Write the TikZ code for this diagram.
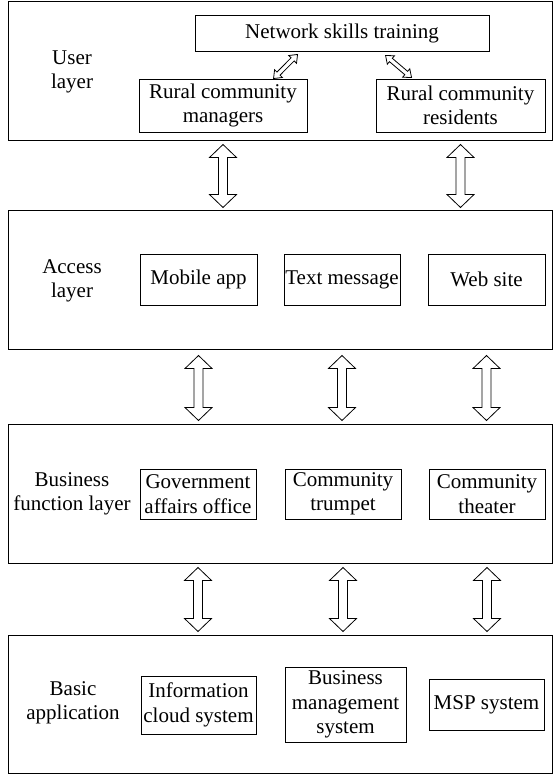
\documentclass[tikz,border=0pt]{standalone}
\usepackage{fontspec}
\setmainfont{Liberation Serif}
\usetikzlibrary{calc}
\tikzset{
  layerbox/.style={draw, line width=1pt, minimum width=544pt, inner sep=0pt},
  itembox/.style={draw, line width=0.9pt, align=center, inner sep=0pt},
  labeltext/.style={align=center, inner sep=0pt},
  blockarrow/.style={draw, line width=0.8pt, fill=white, line join=miter},
}
\newcommand\dbar[5]{%
  \draw[blockarrow] (#1)
  -- ($ ($(#1)!#5!(#2)$)!#4!90:(#2) $)
  -- ($ ($(#1)!#5!(#2)$)!#3!90:(#2) $)
  -- ($ ($(#2)!#5!(#1)$)!#3!-90:(#1) $)
  -- ($ ($(#2)!#5!(#1)$)!#4!-90:(#1) $)
  -- (#2)
  -- ($ ($(#2)!#5!(#1)$)!#4!90:(#1) $)
  -- ($ ($(#2)!#5!(#1)$)!#3!90:(#1) $)
  -- ($ ($(#1)!#5!(#2)$)!#3!-90:(#2) $)
  -- ($ ($(#1)!#5!(#2)$)!#4!-90:(#2) $)
  -- cycle;}
\begin{document}
\begin{tikzpicture}[x=1pt,y=-1pt,font=\fontsize{21}{24.5}\selectfont]
\useasboundingbox (0,0) rectangle (556,776);
% layers
\node[layerbox, minimum height=138pt] (user) at (280,71) {};
\node[layerbox, minimum height=139pt] (access) at (280,279.5) {};
\node[layerbox, minimum height=139pt] (business) at (280,493.5) {};
\node[layerbox, minimum height=138pt] (basic) at (280,704) {};
% layer labels
\node[labeltext] (luser) at (72,72) {User\\layer};
\node[labeltext] (laccess) at (72,281) {Access\\layer};
\node[labeltext] (lbusiness) at (72,494) {Business\\function layer};
\node[labeltext] (lbasic) at (73,703) {Basic\\application};
% user layer
\node[itembox, minimum width=294pt, minimum height=36pt] (net) at (342,33) {Network skills training};
\node[itembox, minimum width=168pt, minimum height=53pt] (mgr) at (223,105.5) {Rural community\\managers};
\node[itembox, minimum width=169pt, minimum height=53pt] (res) at (460.5,105.5) {Rural community\\residents};
% access layer
\node[itembox, minimum width=117pt, minimum height=51pt] (mob) at (198.5,279.5) {Mobile app};
\node[itembox, minimum width=116pt, minimum height=51pt] (txt) at (342,279.5) {Text message};
\node[itembox, minimum width=117pt, minimum height=51pt] (web) at (486.5,279.5) {Web site};
% business layer
\node[itembox, minimum width=116pt, minimum height=50pt] (gov) at (198,494) {Government\\affairs office};
\node[itembox, minimum width=116pt, minimum height=50pt] (trp) at (343,494) {Community\\trumpet};
\node[itembox, minimum width=116pt, minimum height=50pt] (thr) at (487,494) {Community\\theater};
% basic layer
\node[itembox, minimum width=115pt, minimum height=58pt] (info) at (198.5,705) {Information\\cloud system};
\node[itembox, minimum width=121pt, minimum height=75pt] (bms) at (345.5,704.5) {Business\\management\\system};
\node[itembox, minimum width=115pt, minimum height=51pt] (msp) at (486.5,704.5) {MSP system};
% small arrows
\coordinate (s1a) at ($(net.south west)+(103,3)$);
\coordinate (s1b) at ($(mgr.north west)+(135,0)$);
\coordinate (s2a) at ($(net.south west)+(191,4)$);
\coordinate (s2b) at ($(res.north west)+(36,-1)$);
\dbar{s1a}{s1b}{2.2pt}{5.5pt}{7pt}
\dbar{s2a}{s2b}{2.2pt}{5.5pt}{7pt}
% big arrows user-access
\coordinate (a1a) at ($(mgr.center |- user.south)+(0,4)$);
\coordinate (a1b) at ($(mgr.center |- access.north)+(0,-2)$);
\coordinate (a2a) at ($(res.center |- user.south)+(0,4)$);
\coordinate (a2b) at ($(res.center |- access.north)+(0,-2)$);
\dbar{a1a}{a1b}{4.5pt}{13.5pt}{13pt}
\dbar{a2a}{a2b}{4.5pt}{13.5pt}{13pt}
% access-business
\coordinate (b1a) at ($(mob.center |- access.south)+(0,6)$);
\coordinate (b1b) at ($(mob.center |- business.north)+(0,-3)$);
\coordinate (b2a) at ($(txt.center |- access.south)+(0,6)$);
\coordinate (b2b) at ($(txt.center |- business.north)+(0,-3)$);
\coordinate (b3a) at ($(web.center |- access.south)+(0,6)$);
\coordinate (b3b) at ($(web.center |- business.north)+(0,-3)$);
\dbar{b1a}{b1b}{4.5pt}{13.5pt}{13pt}
\dbar{b2a}{b2b}{4.5pt}{13.5pt}{13pt}
\dbar{b3a}{b3b}{4.5pt}{13.5pt}{13pt}
% business-basic
\coordinate (c1a) at ($(gov.center |- business.south)+(0,4)$);
\coordinate (c1b) at ($(gov.center |- basic.north)+(0,-3)$);
\coordinate (c2a) at ($(trp.center |- business.south)+(0,4)$);
\coordinate (c2b) at ($(trp.center |- basic.north)+(0,-3)$);
\coordinate (c3a) at ($(thr.center |- business.south)+(0,4)$);
\coordinate (c3b) at ($(thr.center |- basic.north)+(0,-3)$);
\dbar{c1a}{c1b}{4.5pt}{13.5pt}{13pt}
\dbar{c2a}{c2b}{4.5pt}{13.5pt}{13pt}
\dbar{c3a}{c3b}{4.5pt}{13.5pt}{13pt}
\end{tikzpicture}
\end{document}
